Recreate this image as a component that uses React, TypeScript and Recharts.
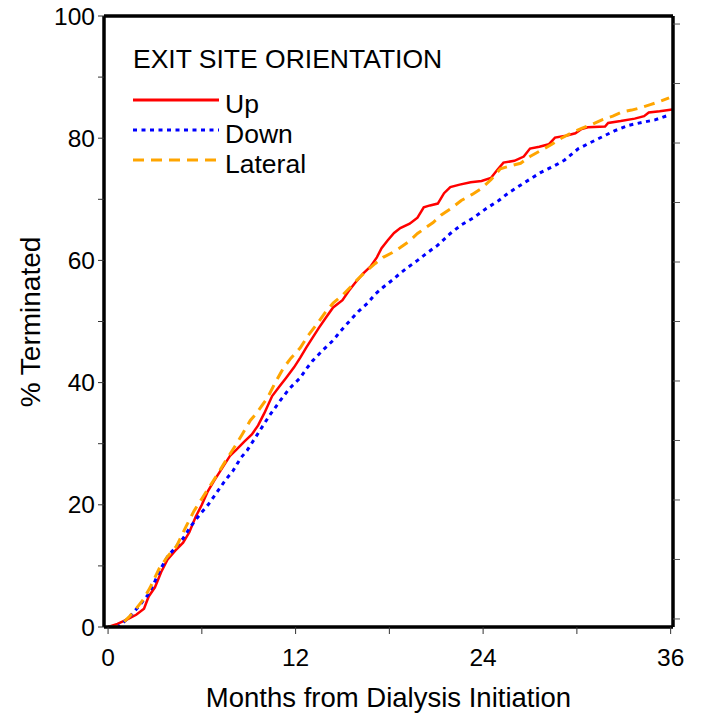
import { LineChart, Line, XAxis, YAxis, ReferenceLine, Label } from 'recharts'

// Kaplan-Meier style cumulative % terminated
const UP_MONTHS = [0, 0.6, 1.2, 1.8, 2.3, 2.6, 3.0, 3.4, 3.8, 4.3, 4.8, 5.2, 5.6, 6.0, 6.4, 6.8, 7.3, 7.8, 8.2, 8.7, 9.2, 9.6, 10.0, 10.5, 11.0, 11.4, 11.9, 12.3, 12.7, 13.1, 13.5, 13.9, 14.4, 15.0, 15.4, 15.8, 16.3, 16.8, 17.2, 17.5, 17.9, 18.3, 18.7, 19.3, 19.8, 20.2, 20.6, 21.1, 21.5, 21.9, 22.5, 23.2, 23.9, 24.5, 24.9, 25.3, 26.0, 26.6, 27.0, 27.6, 28.2, 28.6, 29.3, 29.9, 30.3, 30.7, 31.8, 32.0, 32.8, 33.7, 34.3, 34.6, 35.3, 36.1]
const UP_PCT = [0, 0.5, 1.2, 2.0, 3.0, 5.0, 6.5, 9.0, 11, 12.5, 13.8, 15.5, 18, 20, 22.3, 24, 26, 28, 29, 30.3, 31.5, 33, 35, 37.8, 39.5, 40.8, 42.5, 44.1, 45.8, 47.4, 49, 50.5, 52.3, 53.5, 55, 56.3, 57.8, 59, 60.5, 62, 63.3, 64.5, 65.3, 66, 67, 68.7, 69, 69.3, 71, 72, 72.4, 72.8, 73, 73.5, 74.8, 76, 76.3, 77, 78.3, 78.6, 79, 80.1, 80.4, 80.8, 81.5, 81.8, 81.9, 82.5, 82.8, 83.2, 83.6, 84.2, 84.4, 84.7]

const DOWN_MONTHS = [0, 0.6, 1.0, 1.5, 2.0, 2.6, 3.0, 3.3, 3.8, 4.3, 4.8, 5.3, 5.9, 6.4, 6.9, 7.5, 8.0, 8.5, 8.9, 9.3, 9.7, 10.3, 11.0, 11.6, 12.3, 12.7, 13.1, 13.7, 14.4, 14.9, 15.5, 16.0, 16.6, 17.1, 17.6, 18.2, 18.7, 19.2, 19.8, 20.4, 21.1, 21.9, 22.6, 23.4, 24.2, 25.0, 25.6, 26.2, 27.0, 27.7, 28.5, 29.2, 30.1, 30.8, 31.6, 32.4, 33.3, 34.2, 35.0, 35.9]
const DOWN_PCT = [0, 0, 0.8, 2, 3.5, 5.4, 7.5, 9.2, 11.5, 13, 14.5, 16.5, 18.5, 20, 21.8, 24, 25.6, 27.7, 28.9, 30.5, 32.1, 34.5, 37, 39, 40.8, 42.3, 43.6, 45.2, 46.9, 48.5, 50.2, 51.6, 53, 54.5, 55.6, 56.8, 57.9, 58.9, 60, 61.2, 62.5, 64.4, 65.8, 67, 68.5, 69.8, 71, 72, 73.3, 74.4, 75.4, 76.4, 78.3, 79.2, 80.2, 81.2, 82.1, 82.6, 83, 83.8]

const LATERAL_MONTHS = [0, 0.6, 1.0, 1.4, 1.8, 2.2, 2.7, 3.3, 3.8, 4.4, 5.0, 5.5, 6.0, 6.5, 7.0, 7.6, 8.1, 8.6, 9.1, 9.5, 10.2, 10.7, 11.2, 11.7, 12.3, 12.8, 13.4, 13.9, 14.4, 15.0, 15.5, 16.0, 16.6, 17.1, 17.6, 18.2, 18.7, 19.3, 19.8, 20.3, 20.8, 21.3, 22.0, 22.6, 23.3, 23.9, 24.5, 25.1, 25.8, 26.4, 27.0, 27.7, 28.4, 29.0, 29.6, 30.3, 31.0, 31.6, 32.3, 32.9, 33.5, 34.1, 34.7, 35.3, 35.9]
const LATERAL_PCT = [0, 0, 0.8, 1.8, 3, 4.3, 6.5, 9.7, 11.5, 13.3, 16.5, 19, 21, 23, 25, 27.5, 29.5, 31.6, 33.8, 35, 37.5, 40, 42.3, 44, 45.7, 47.7, 49.7, 51.5, 53, 54.3, 55.6, 57, 58.4, 59.5, 60.5, 61.3, 62.1, 63.2, 64.4, 65.3, 66.2, 67.4, 68.6, 69.8, 70.8, 71.8, 73.2, 75, 75.5, 75.9, 77, 78, 79, 80, 80.8, 81.6, 82.3, 83, 83.6, 84.3, 84.6, 85, 85.5, 86, 86.6]

const X_TICKS = [0, 6, 12, 18, 24, 30, 36]
const Y_TICKS = [0, 10, 20, 30, 40, 50, 60, 70, 80, 90, 100]

const SERIES = [
  { name: 'Up', months: UP_MONTHS, pct: UP_PCT, color: '#FF0000', dash: undefined, width: 2.5 },
  { name: 'Down', months: DOWN_MONTHS, pct: DOWN_PCT, color: '#0000FF', dash: '4 4.5', width: 3 },
  { name: 'Lateral', months: LATERAL_MONTHS, pct: LATERAL_PCT, color: '#FFA500', dash: '11 7', width: 3 },
]

const FONT = '"Liberation Sans", Arial, Helvetica, sans-serif'

export default function App() {
  return (
    <div style={{ position: 'relative', width: 701, height: 716, fontFamily: FONT }}>
      <style>{'body{margin:0}'}</style>
      <LineChart width={701} height={716} margin={{ top: 16, right: 0, bottom: 0, left: 0 }} style={{ fontFamily: FONT }}>
        <XAxis
          type="number"
          dataKey="month"
          domain={[-0.26, 36.15]}
          allowDataOverflow
          ticks={X_TICKS}
          tickFormatter={(v) => (v % 12 === 0 ? String(v) : '')}
          height={89}
          tickSize={7}
          tickMargin={15}
          tick={{ fill: '#000', fontSize: 24.5 }}
          tickLine={{ stroke: '#333', strokeWidth: 1 }}
          axisLine={{ stroke: '#000', strokeWidth: 3.5 }}
        >
          <Label value="Months from Dialysis Initiation" position="insideBottom" offset={9} fill="#000" fontSize={27.5} />
        </XAxis>
        <YAxis
          yAxisId="left"
          type="number"
          domain={[0, 100]}
          allowDataOverflow
          ticks={Y_TICKS}
          tickFormatter={(v) => (v % 20 === 0 ? String(v) : '')}
          width={104}
          tickSize={6}
          tickMargin={3}
          tick={{ fill: '#000', fontSize: 24.5 }}
          tickLine={{ stroke: '#333', strokeWidth: 1 }}
          axisLine={{ stroke: '#000', strokeWidth: 3.5 }}
        >
          <Label
            content={() => (
              <text x={30} y={322} transform="rotate(-90 30 322)" textAnchor="middle" dominantBaseline="central" fill="#000" fontSize={28}>
                % Terminated
              </text>
            )}
          />
        </YAxis>
        <YAxis
          yAxisId="right"
          orientation="right"
          type="number"
          domain={[-1.35, 101.35]}
          allowDataOverflow
          ticks={Y_TICKS}
          tickFormatter={() => ''}
          width={28}
          tickSize={7}
          tickLine={{ stroke: '#555', strokeWidth: 1 }}
          axisLine={{ stroke: '#000', strokeWidth: 3.5 }}
        />
        <ReferenceLine yAxisId="left" y={100} stroke="#000" strokeWidth={3.5} />
        {SERIES.map((s) => (
          <Line
            key={s.name}
            yAxisId="left"
            data={s.months.map((m, i) => ({ month: m, pct: s.pct[i] }))}
            dataKey="pct"
            name={s.name}
            type="linear"
            stroke={s.color}
            strokeWidth={s.width}
            strokeDasharray={s.dash}
            dot={false}
            activeDot={false}
            isAnimationActive={false}
          />
        ))}
      </LineChart>
      <div style={{ position: 'absolute', left: 133, top: 44, color: '#000', fontSize: 26.5 }}>
        <div style={{ lineHeight: '30px', whiteSpace: 'nowrap' }}>EXIT SITE ORIENTATION</div>
        <div style={{ marginTop: 15 }}>
          {SERIES.map((s) => (
            <div key={s.name} style={{ display: 'flex', height: 30, lineHeight: '30px' }}>
              <svg width={86} height={30} style={{ display: 'block' }}>
                <line x1={0} x2={86} y1={11} y2={11} stroke={s.color} strokeWidth={3} strokeDasharray={s.dash} />
              </svg>
              <span style={{ marginLeft: 6 }}>{s.name}</span>
            </div>
          ))}
        </div>
      </div>
    </div>
  )
}
